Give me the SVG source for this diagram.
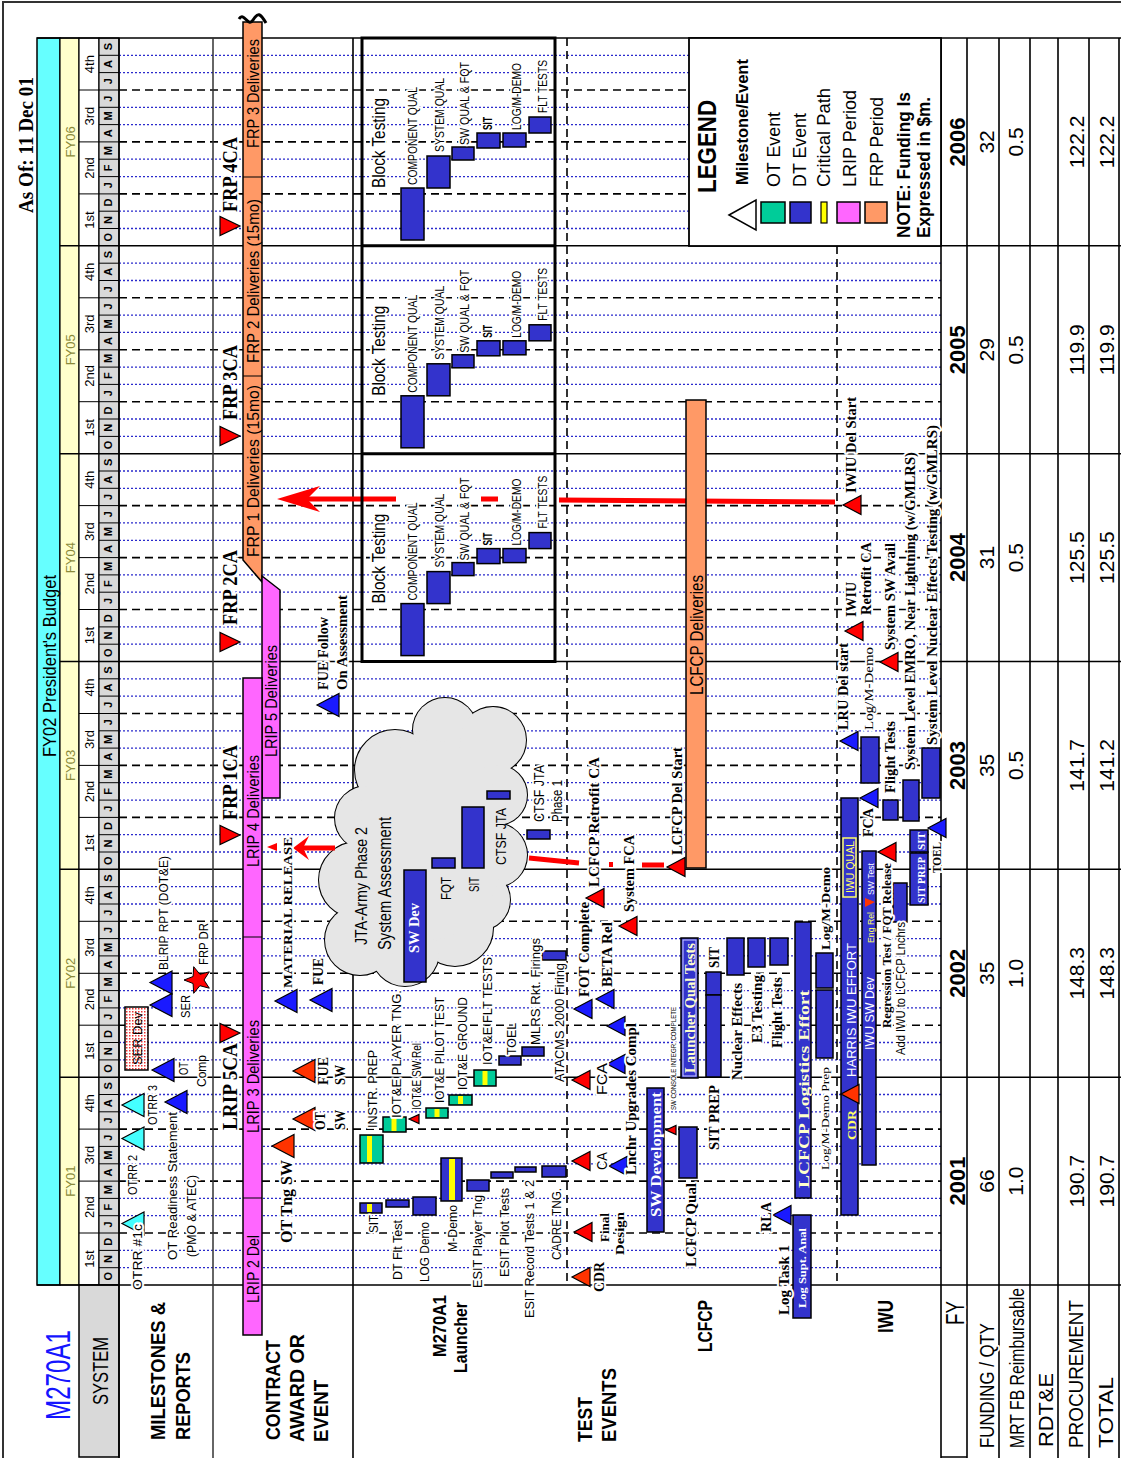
<svg xmlns="http://www.w3.org/2000/svg" width="1121" height="1458" viewBox="0 0 1121 1458">
<defs>
<style>
text{font-family:"Liberation Sans Narrow","Arial Narrow","Liberation Sans",Arial,sans-serif;fill:#000}
#labels text,#blk text{paint-order:stroke;stroke:#fff;stroke-width:4px;stroke-linejoin:round}
#labels text.nh{stroke:none}
.a{font-family:"Liberation Sans",Arial,sans-serif;font-weight:bold}
.s{font-family:"Liberation Serif","Times New Roman",serif;font-weight:bold}
.r{font-family:"Liberation Serif","Times New Roman",serif;font-weight:normal}
.b{font-weight:bold}
#labels text.w{fill:#fff;stroke:none}
#labels text.yl{fill:#ffff66;stroke:none}
#labels text.lt{fill:#ffffcc;stroke:none}
.bar{fill:#3333cc;stroke:#000;stroke-width:1.5}
.grn{fill:#00cc99;stroke:#000;stroke-width:1.5}
.ys{fill:#ffff00}
.tb{fill:#1a1aff;stroke:#000;stroke-width:1.2}
.tr{fill:#ff0000;stroke:#000;stroke-width:1.2}
.to{fill:#ff3300;stroke:#000;stroke-width:1.2}
.tc{fill:#44ffff;stroke:#000;stroke-width:1.2}
.dot{stroke:#2a2acc;stroke-width:1.3;stroke-dasharray:2 2;fill:none}
.dash{stroke:#000;stroke-width:1.6;stroke-dasharray:8 5;fill:none}
.sol{stroke:#000;stroke-width:1.6;fill:none}
.cp{stroke:#ff0000;stroke-width:5;fill:none}
</style>
<path id="tL" d="M0,0L22,-11.5L22,11.5Z"/>
<path id="tM" d="M0,0L18,-9.5L18,9.5Z"/>
<path id="tR" d="M0,0L-20,-9.5L-20,9.5Z"/>
<path id="tS" d="M0,0L10,-4.5L10,4.5Z"/>
<pattern id="dots" width="3" height="3" patternUnits="userSpaceOnUse"><rect width="3" height="3" fill="#fff"/><rect width="1.5" height="1.5" fill="#e33"/></pattern>
</defs>
<rect width="1121" height="1458" fill="#fff"/>
<path d="M3,1458V2H1121" fill="none" stroke="#333" stroke-width="2"/>

<g id="header">
<rect x="37" y="38" width="23" height="1247" fill="#66ffff" stroke="#000" stroke-width="1.5"/>
<rect x="60" y="38" width="19" height="1247" fill="#ffffcc" stroke="#000" stroke-width="1.2"/>
<rect x="79" y="38" width="20" height="1247" fill="#fff" stroke="#000" stroke-width="1.2"/>
<rect x="99" y="38" width="20" height="1247" fill="#d9d9d9" stroke="#000" stroke-width="1.2"/>
<path fill="none" stroke="#000" stroke-width="1" d="M99,1267.7h20M99,1250.4h20M99,1215.7h20M99,1198.4h20M99,1163.8h20M99,1146.4h20M99,1111.8h20M99,1094.5h20M99,1059.9h20M99,1042.5h20M99,1007.9h20M99,990.6h20M99,955.9h20M99,938.6h20M99,904h20M99,886.7h20M99,852h20M99,834.7h20M99,800.1h20M99,782.7h20M99,748.1h20M99,730.8h20M99,696.1h20M99,678.8h20M99,644.2h20M99,626.9h20M99,592.2h20M99,574.9h20M99,540.3h20M99,522.9h20M99,488.3h20M99,471h20M99,436.4h20M99,419h20M99,384.4h20M99,367.1h20M99,332.4h20M99,315.1h20M99,280.5h20M99,263.2h20M99,228.5h20M99,211.2h20M99,176.6h20M99,159.2h20M99,124.6h20M99,107.3h20M99,72.6h20M99,55.3h20M79,1233h40M79,1181.1h40M79,1129.1h40M79,1025.2h40M79,973.3h40M79,921.3h40M79,817.4h40M79,765.4h40M79,713.5h40M79,609.5h40M79,557.6h40M79,505.6h40M79,401.7h40M79,349.8h40M79,297.8h40M79,193.9h40M79,141.9h40M79,90h40"/>
<rect x="79" y="1285" width="40" height="172" fill="#d9d9d9" stroke="#000" stroke-width="1.5"/>
</g>

<g id="grid">
<path class="dot" d="M119,1267.7H941M119,1250.4H941M119,1215.7H941M119,1198.4H941M119,1163.8H941M119,1146.4H941M119,1111.8H941M119,1094.5H941M119,1059.9H941M119,1042.5H941M119,1007.9H941M119,990.6H941M119,955.9H941M119,938.6H941M119,904H941M119,886.7H941M119,852H941M119,834.7H941M119,800.1H941M119,782.7H941M119,748.1H941M119,730.8H941M119,696.1H941M119,678.8H941M119,644.2H941M119,626.9H941M119,592.2H941M119,574.9H941M119,540.3H941M119,522.9H941M119,488.3H941M119,471H941M119,436.4H941M119,419H941M119,384.4H941M119,367.1H941M119,332.4H941M119,315.1H941M119,280.5H941M119,263.2H941M119,228.5H941M119,211.2H941M119,176.6H941M119,159.2H941M119,124.6H941M119,107.3H941M119,72.6H941M119,55.3H941"/>
<path class="dash" d="M119,1233H941M119,1181.1H941M119,1129.1H941M119,1025.2H941M119,973.3H941M119,921.3H941M119,817.4H941M119,765.4H941M119,713.5H941M119,609.5H941M119,557.6H941M119,505.6H941M119,401.7H941M119,349.8H941M119,297.8H941M119,193.9H941M119,141.9H941M119,90H941"/>
<path class="sol" d="M60,1077.2H1121M60,869.3H1121M60,661.5H1121M60,453.7H1121M60,245.8H1121"/>
<path class="sol" stroke-width="2.5" d="M37,38H1121M941,38V1458"/>
<path class="sol" d="M37,1285H1121M119,38V1458M353,38V1458M967,38V1458M999,38V1458M1030,38V1458M1058,38V1458M1089,38V1458M1119,38V1458M941,1457H967"/>
<path d="M213,38V1458" stroke="#333" stroke-width="1.5"/>
<path class="dash" d="M567,38V1285M837,246V1285"/>
</g>

<g id="legend">
<rect x="689" y="38" width="252" height="208" fill="#fff" stroke="#000" stroke-width="1.8"/>
<path d="M729,215L756,200L756,230Z" fill="#fff" stroke="#000" stroke-width="1.5"/>
<rect x="761" y="202" width="24" height="21" fill="#00cc99" stroke="#000" stroke-width="1.5"/>
<rect x="790" y="202" width="21" height="21" fill="#3333cc" stroke="#000" stroke-width="1.5"/>
<rect x="821" y="202" width="6" height="21" fill="#ffff00" stroke="#000" stroke-width="1.2"/>
<rect x="837" y="202" width="23" height="21" fill="#ff66ff" stroke="#000" stroke-width="1.5"/>
<rect x="865" y="202" width="22" height="21" fill="#ff9966" stroke="#000" stroke-width="1.5"/>
</g>

<g id="cloud">
<g fill="#e6e6e6" stroke="#000" stroke-width="2">
<circle cx="395" cy="770" r="40"/><circle cx="445" cy="730" r="32"/><circle cx="493" cy="740" r="33"/><circle cx="497" cy="795" r="30"/><circle cx="495" cy="855" r="32"/><circle cx="480" cy="900" r="30"/><circle cx="455" cy="928" r="38"/><circle cx="405" cy="952" r="34"/><circle cx="360" cy="940" r="35"/><circle cx="357" cy="880" r="38"/><circle cx="367" cy="818" r="32"/>
</g>
<g fill="#e6e6e6">
<circle cx="395" cy="770" r="40"/><circle cx="445" cy="730" r="32"/><circle cx="493" cy="740" r="33"/><circle cx="497" cy="795" r="30"/><circle cx="495" cy="855" r="32"/><circle cx="480" cy="900" r="30"/><circle cx="455" cy="928" r="38"/><circle cx="405" cy="952" r="34"/><circle cx="360" cy="940" r="35"/><circle cx="357" cy="880" r="38"/><circle cx="367" cy="818" r="32"/>
<ellipse cx="430" cy="840" rx="75" ry="100"/>
</g>
</g>

<g id="contract">
<path d="M243,22H262V582L243,560Z" fill="#ff9966" stroke="#000" stroke-width="1.5"/>
<path d="M243,177H262M243,376H262" stroke="#000" stroke-width="1.2"/>
<path d="M262,576L280,590V798H262Z" fill="#ff66ff" stroke="#000" stroke-width="1.5"/>
<rect x="243" y="678" width="19" height="657" fill="#ff66ff" stroke="#000" stroke-width="1.5"/>
<path d="M243,937H262M243,1198H262" stroke="#000" stroke-width="1.2"/>
<path d="M239,19C244,11 248,28 253,20S260,13 266,23" fill="none" stroke="#000" stroke-width="3"/>
</g>

<g id="critical-path">
<path class="cp" d="M305,499H396M481,499H498M559,500L835,502M529,858L579,863M642,865H664"/>
<path class="cp" stroke-width="4" d="M300,848H335"/>
<path d="M277,499L320,486L307,499L320,512Z" fill="#f00"/>
<rect x="609" y="862" width="4" height="5" fill="#f00"/>
<path d="M293,848L309,836L303,848L309,860Z" fill="#f00"/>
<path d="M267,847L277,843L277,851Z" fill="#f00"/>
</g>

<g id="block">
<g id="blk">
<rect class="bar" x="401" y="188" width="23" height="52"/>
<rect class="bar" x="427" y="156" width="23" height="32"/>
<rect class="bar" x="452" y="147" width="22" height="13"/>
<rect class="bar" x="477" y="133" width="23" height="15"/>
<rect class="bar" x="503" y="133" width="23" height="14"/>
<rect class="bar" x="529" y="117" width="22" height="16"/>
<g transform="rotate(-90)">
<text x="-188" y="385" font-size="19" textLength="90" lengthAdjust="spacingAndGlyphs">Block Testing</text>
<text x="-185" y="417" font-size="12" textLength="98" lengthAdjust="spacingAndGlyphs">COMPONENT QUAL</text>
<text x="-152" y="444" font-size="12" textLength="74" lengthAdjust="spacingAndGlyphs">SYSTEM QUAL</text>
<text x="-145" y="469" font-size="12" textLength="83" lengthAdjust="spacingAndGlyphs">SW QUAL &amp; FQT</text>
<text x="-130" y="492" font-size="12" font-weight="bold" textLength="13" lengthAdjust="spacingAndGlyphs">SIT</text>
<text x="-130" y="521" font-size="12" textLength="67" lengthAdjust="spacingAndGlyphs">LOG/M-DEMO</text>
<text x="-113" y="547" font-size="12" textLength="53" lengthAdjust="spacingAndGlyphs">FLT TESTS</text>
</g>
</g>
<use href="#blk" y="207.8"/>
<use href="#blk" y="415.6"/>
<path d="M362,38H555V661.5H362ZM362,245.8H555M362,453.7H555" fill="none" stroke="#000" stroke-width="3"/>
</g>

<g id="bars">
<rect x="125" y="1007" width="23" height="63" fill="url(#dots)" stroke="#000" stroke-width="1.5"/>
<rect class="bar" x="360" y="1203" width="22" height="10"/><rect class="ys" x="367" y="1204" width="5" height="8"/>
<rect class="bar" x="386" y="1200" width="23" height="7"/>
<rect class="bar" x="413" y="1197" width="23" height="18"/>
<rect class="bar" x="441" y="1158" width="21" height="43"/><rect class="ys" x="449" y="1159" width="6" height="41"/>
<rect class="bar" x="467" y="1180" width="22" height="11"/>
<rect class="bar" x="491" y="1172" width="22" height="6"/>
<rect class="bar" x="515" y="1167" width="21" height="5"/>
<rect class="bar" x="542" y="1166" width="24" height="11"/>
<rect class="bar" x="499" y="1056" width="22" height="9"/>
<rect class="bar" x="522" y="1047" width="22" height="9"/>
<rect class="bar" x="542" y="951" width="24" height="9"/>
<rect class="bar" x="404" y="870" width="22" height="112"/>
<rect class="bar" x="432" y="858" width="23" height="10"/>
<rect class="bar" x="462" y="807" width="22" height="61"/>
<rect class="bar" x="487" y="791" width="23" height="8"/>
<rect class="bar" x="527" y="830" width="23" height="9"/>
<rect class="grn" x="360" y="1135" width="23" height="28"/><rect class="ys" x="367" y="1136" width="5" height="26"/>
<rect class="grn" x="383" y="1117" width="23" height="15"/><rect class="ys" x="391.5" y="1118" width="5" height="13"/>
<rect class="grn" x="426" y="1108" width="22" height="10"/><rect class="ys" x="434.5" y="1109" width="5" height="8"/>
<rect class="grn" x="449" y="1095" width="23" height="10"/><rect class="ys" x="458" y="1096" width="5" height="8"/>
<rect class="grn" x="474" y="1070" width="22" height="16"/><rect class="ys" x="482.5" y="1071" width="5" height="14"/>
<rect x="686" y="400" width="20" height="468" fill="#ff9966" stroke="#000" stroke-width="1.5"/>
<rect class="bar" x="647" y="1088" width="17" height="144"/>
<rect class="bar" x="679" y="1127" width="18" height="51"/>
<rect class="bar" x="681" y="938" width="17" height="140"/><rect x="683" y="940" width="13" height="136" fill="none" stroke="#ccccff" stroke-width="1"/>
<rect class="bar" x="706" y="972" width="15" height="23"/>
<rect class="bar" x="706" y="995" width="15" height="82"/>
<rect class="bar" x="727" y="938" width="17" height="37"/>
<rect class="bar" x="748" y="938" width="17" height="29"/>
<rect class="bar" x="770" y="938" width="18" height="27"/>
<rect class="bar" x="795" y="922" width="16" height="276"/>
<rect class="bar" x="816" y="953" width="17" height="35"/>
<rect class="bar" x="816" y="990" width="17" height="68"/>
<rect class="bar" x="793" y="1215" width="18" height="103"/>
<rect class="bar" x="841" y="798" width="17" height="417"/>
<rect x="843" y="838" width="13" height="59" fill="none" stroke="#ffff66" stroke-width="1.5"/>
<rect class="bar" x="862" y="851" width="14" height="314"/>
<rect class="bar" x="893" y="883" width="14" height="39"/>
<rect class="bar" x="910" y="853" width="18" height="52"/>
<rect class="bar" x="910" y="830" width="18" height="22"/>
<rect class="bar" x="861" y="737" width="18" height="46"/>
<rect class="bar" x="883" y="800" width="15" height="20"/>
<rect class="bar" x="903" y="780" width="16" height="41"/>
<rect class="bar" x="922" y="748" width="18" height="50"/>
</g>

<g id="markers">
<use href="#tL" x="122" y="1223.5" class="tc"/>
<use href="#tL" x="122" y="1138.5" class="tc"/>
<use href="#tL" x="122" y="1105" class="tc"/>
<use href="#tL" x="165" y="1102" class="tb"/>
<use href="#tL" x="152" y="1070" class="tb"/>
<use href="#tL" x="150" y="1005" class="tb"/>
<use href="#tL" x="150" y="982.5" class="tb"/>
<use href="#tL" x="275" y="1001" class="tb"/>
<use href="#tL" x="310" y="1000" class="tb"/>
<use href="#tL" x="317" y="705" class="tb"/>
<use href="#tM" x="574" y="1009" class="tb"/>
<use href="#tM" x="596" y="999" class="tb"/>
<use href="#tM" x="609" y="1166" class="tb"/>
<use href="#tM" x="607" y="1064" class="tb"/>
<use href="#tM" x="607" y="1026" class="tb"/>
<use href="#tM" x="773" y="1215" class="tb"/>
<use href="#tM" x="860" y="798" class="tb"/>
<use href="#tM" x="928" y="828" class="tb"/>
<use href="#tM" x="840" y="741" class="tb"/>
<use href="#tR" x="240" y="226" class="tr"/>
<use href="#tR" x="240" y="436" class="tr"/>
<use href="#tR" x="240" y="642" class="tr"/>
<use href="#tR" x="240" y="835" class="tr"/>
<use href="#tR" x="240" y="1033" class="tr"/>
<use href="#tL" x="272" y="1146" class="to"/>
<use href="#tL" x="293" y="1119" class="to"/>
<use href="#tL" x="293" y="1071" class="to"/>
<use href="#tM" x="572" y="1277" class="to"/>
<use href="#tM" x="841" y="1094" class="to"/>
<use href="#tM" x="574" y="1232" class="tr"/>
<use href="#tM" x="572" y="1161" class="tr"/>
<use href="#tM" x="572" y="1080" class="tr"/>
<use href="#tM" x="586" y="898" class="tr"/>
<use href="#tM" x="619" y="926" class="tr"/>
<use href="#tM" x="667" y="867" class="tr"/>
<use href="#tM" x="878" y="852" class="tr"/>
<use href="#tM" x="843" y="505" class="tr"/>
<use href="#tM" x="845" y="631" class="tr"/>
<use href="#tM" x="880" y="662" class="tr"/>
<use href="#tS" x="409" y="1119" class="tr"/>
<use href="#tS" x="666" y="1130" class="tr"/>
<path d="M875,902L865,898L865,907Z" fill="#ff3300"/>
<path transform="rotate(-90 198 980)" d="M198,966L201.5,975.1L211.3,975.7L203.7,981.9L206.2,991.3L198,986L189.8,991.3L192.3,981.9L184.7,975.7L194.5,975.1Z" fill="#f00" stroke="#000" stroke-width="1"/>
</g>

<g id="labels" transform="rotate(-90)">
<text class="s" font-size="21" x="-145" y="33" text-anchor="middle" textLength="136" lengthAdjust="spacingAndGlyphs">As Of: 11 Dec 01</text>
<text class="nh" font-size="19" x="-666" y="56" text-anchor="middle" textLength="182" lengthAdjust="spacingAndGlyphs">FY02 President's Budget</text>
<text class="nh" font-size="11" font-weight="bold" y="112" text-anchor="middle" x="-1276.3 -1259.0 -1241.7 -1224.4 -1207.1 -1189.7 -1172.4 -1155.1 -1137.8 -1120.5 -1103.2 -1085.8 -1068.5 -1051.2 -1033.9 -1016.6 -999.2 -981.9 -964.6 -947.3 -930.0 -912.6 -895.3 -878.0 -860.7 -843.4 -826.0 -808.7 -791.4 -774.1 -756.8 -739.4 -722.1 -704.8 -687.5 -670.2 -652.8 -635.5 -618.2 -600.9 -583.6 -566.3 -548.9 -531.6 -514.3 -497.0 -479.7 -462.3 -445.0 -427.7 -410.4 -393.1 -375.7 -358.4 -341.1 -323.8 -306.5 -289.1 -271.8 -254.5 -237.2 -219.9 -202.5 -185.2 -167.9 -150.6 -133.3 -115.9 -98.6 -81.3 -64.0 -46.7">ONDJFMAMJJASONDJFMAMJJASONDJFMAMJJASONDJFMAMJJASONDJFMAMJJASONDJFMAMJJAS</text>
<text class="nh" font-size="13" y="94" text-anchor="middle"><tspan x="-1259">1st</tspan><tspan x="-1207.1">2nd</tspan><tspan x="-1155.1">3rd</tspan><tspan x="-1103.2">4th</tspan><tspan x="-1051.2">1st</tspan><tspan x="-999.3">2nd</tspan><tspan x="-947.3">3rd</tspan><tspan x="-895.4">4th</tspan><tspan x="-843.4">1st</tspan><tspan x="-791.5">2nd</tspan><tspan x="-739.5">3rd</tspan><tspan x="-687.5">4th</tspan><tspan x="-635.6">1st</tspan><tspan x="-583.6">2nd</tspan><tspan x="-531.7">3rd</tspan><tspan x="-479.7">4th</tspan><tspan x="-427.8">1st</tspan><tspan x="-375.8">2nd</tspan><tspan x="-323.9">3rd</tspan><tspan x="-271.9">4th</tspan><tspan x="-220">1st</tspan><tspan x="-168">2nd</tspan><tspan x="-116.1">3rd</tspan><tspan x="-64.1">4th</tspan></text>
<text class="nh" font-size="13" y="75" text-anchor="middle" style="fill:#8a8a3a"><tspan x="-1181.1">FY01</tspan><tspan x="-973.3">FY02</tspan><tspan x="-765.4">FY03</tspan><tspan x="-557.6">FY04</tspan><tspan x="-349.8">FY05</tspan><tspan x="-141.9">FY06</tspan></text>

<text class="nh" font-size="35" x="-1420" y="70" textLength="90" lengthAdjust="spacingAndGlyphs" style="fill:#1515ff">M270A1</text>
<text class="nh" font-size="22" x="-1371" y="108" text-anchor="middle" textLength="68" lengthAdjust="spacingAndGlyphs">SYSTEM</text>
<text class="a" font-size="20" x="-1440" y="165" textLength="138" lengthAdjust="spacingAndGlyphs">MILESTONES &amp;</text>
<text class="a" font-size="20" x="-1440" y="190" textLength="88" lengthAdjust="spacingAndGlyphs">REPORTS</text>
<text class="a" font-size="20" x="-1440" y="280" textLength="100" lengthAdjust="spacingAndGlyphs">CONTRACT</text>
<text class="a" font-size="20" x="-1442" y="304" textLength="108" lengthAdjust="spacingAndGlyphs">AWARD OR</text>
<text class="a" font-size="20" x="-1442" y="328" textLength="62" lengthAdjust="spacingAndGlyphs">EVENT</text>
<text class="a" font-size="19" x="-1357" y="446" textLength="62" lengthAdjust="spacingAndGlyphs">M270A1</text>
<text class="a" font-size="19" x="-1373" y="467" textLength="71" lengthAdjust="spacingAndGlyphs">Launcher</text>
<text class="a" font-size="20" x="-1442" y="592" textLength="45" lengthAdjust="spacingAndGlyphs">TEST</text>
<text class="a" font-size="20" x="-1442" y="616" textLength="74" lengthAdjust="spacingAndGlyphs">EVENTS</text>
<text class="a" font-size="20" x="-1352" y="712" textLength="52" lengthAdjust="spacingAndGlyphs">LCFCP</text>
<text class="a" font-size="22" x="-1333" y="893" textLength="33" lengthAdjust="spacingAndGlyphs">IWU</text>

<text font-size="26" x="-1325" y="964" textLength="24" lengthAdjust="spacingAndGlyphs">FY</text>
<text font-size="21" x="-1448" y="994" textLength="125" lengthAdjust="spacingAndGlyphs">FUNDING / QTY</text>
<text font-size="21" x="-1448" y="1024" textLength="160" lengthAdjust="spacingAndGlyphs">MRT FB Reimbursable</text>
<text font-size="21" x="-1447" y="1053" textLength="74" lengthAdjust="spacingAndGlyphs">RDT&amp;E</text>
<text font-size="21" x="-1448" y="1083" textLength="148" lengthAdjust="spacingAndGlyphs">PROCUREMENT</text>
<text font-size="21" x="-1448" y="1113" textLength="71" lengthAdjust="spacingAndGlyphs">TOTAL</text>
<text class="nh" font-size="22" y="965" text-anchor="middle" font-weight="bold"><tspan x="-1181.1">2001</tspan><tspan x="-973.3">2002</tspan><tspan x="-765.4">2003</tspan><tspan x="-557.6">2004</tspan><tspan x="-349.8">2005</tspan><tspan x="-141.9">2006</tspan></text>
<text class="nh" font-size="21" y="994" text-anchor="middle"><tspan x="-1181.1">66</tspan><tspan x="-973.3">35</tspan><tspan x="-765.4">35</tspan><tspan x="-557.6">31</tspan><tspan x="-349.8">29</tspan><tspan x="-141.9">32</tspan></text>
<text class="nh" font-size="21" y="1023" text-anchor="middle"><tspan x="-1181.1">1.0</tspan><tspan x="-973.3">1.0</tspan><tspan x="-765.4">0.5</tspan><tspan x="-557.6">0.5</tspan><tspan x="-349.8">0.5</tspan><tspan x="-141.9">0.5</tspan></text>
<text class="nh" font-size="21" y="1084" text-anchor="middle"><tspan x="-1181.1">190.7</tspan><tspan x="-973.3">148.3</tspan><tspan x="-765.4">141.7</tspan><tspan x="-557.6">125.5</tspan><tspan x="-349.8">119.9</tspan><tspan x="-141.9">122.2</tspan></text>
<text class="nh" font-size="21" y="1114" text-anchor="middle"><tspan x="-1181.1">190.7</tspan><tspan x="-973.3">148.3</tspan><tspan x="-765.4">141.2</tspan><tspan x="-557.6">125.5</tspan><tspan x="-349.8">119.9</tspan><tspan x="-141.9">122.2</tspan></text>

<text class="a" font-size="26" x="-193" y="716" textLength="93" lengthAdjust="spacingAndGlyphs">LEGEND</text>
<text class="a" font-size="17" x="-185" y="748" textLength="126" lengthAdjust="spacingAndGlyphs">Milestone/Event</text>
<text font-size="19" x="-187" y="780" textLength="75" lengthAdjust="spacingAndGlyphs">OT Event</text>
<text font-size="19" x="-187" y="806" textLength="74" lengthAdjust="spacingAndGlyphs">DT Event</text>
<text font-size="19" x="-187" y="830" textLength="99" lengthAdjust="spacingAndGlyphs">Critical Path</text>
<text font-size="19" x="-187" y="856" textLength="97" lengthAdjust="spacingAndGlyphs">LRIP Period</text>
<text font-size="19" x="-187" y="883" textLength="90" lengthAdjust="spacingAndGlyphs">FRP Period</text>
<text font-size="19" class="b" x="-238" y="910" textLength="146" lengthAdjust="spacingAndGlyphs">NOTE:  Funding Is</text>
<text font-size="19" class="b" x="-238" y="930" textLength="141" lengthAdjust="spacingAndGlyphs">Expressed in $m.</text>

<text font-size="13" x="-1290" y="142" textLength="66" lengthAdjust="spacingAndGlyphs">OTRR #1c</text>
<text font-size="13" x="-1195" y="137" textLength="40" lengthAdjust="spacingAndGlyphs">OTRR 2</text>
<text font-size="13" x="-1125" y="157" textLength="40" lengthAdjust="spacingAndGlyphs">OTRR 3</text>
<text font-size="13" x="-1260" y="177" textLength="148" lengthAdjust="spacingAndGlyphs">OT Readiness Statement</text>
<text font-size="13" x="-1257" y="196" textLength="82" lengthAdjust="spacingAndGlyphs">(PMO &amp; ATEC)</text>
<text font-size="13" x="-1075" y="188" textLength="13" lengthAdjust="spacingAndGlyphs">OT</text>
<text font-size="13" x="-1087" y="206" textLength="32" lengthAdjust="spacingAndGlyphs">Comp</text>
<text class="nh" font-size="13" x="-1065" y="142" textLength="53" lengthAdjust="spacingAndGlyphs">SER Dev</text>
<text font-size="13" x="-970" y="168" textLength="114" lengthAdjust="spacingAndGlyphs">BLRIP RPT (DOT&amp;E)</text>
<text font-size="13" x="-1018" y="190" textLength="23" lengthAdjust="spacingAndGlyphs">SER</text>
<text font-size="13" x="-965" y="208" textLength="42" lengthAdjust="spacingAndGlyphs">FRP DR</text>

<text class="s" font-size="20" x="-212" y="237" textLength="75" lengthAdjust="spacingAndGlyphs">FRP 4CA</text>
<text class="s" font-size="20" x="-420" y="237" textLength="75" lengthAdjust="spacingAndGlyphs">FRP 3CA</text>
<text class="s" font-size="20" x="-625" y="237" textLength="75" lengthAdjust="spacingAndGlyphs">FRP 2CA</text>
<text class="s" font-size="20" x="-820" y="237" textLength="75" lengthAdjust="spacingAndGlyphs">FRP 1CA</text>
<text class="s" font-size="20" x="-1130" y="237" textLength="87" lengthAdjust="spacingAndGlyphs">LRIP 5CA</text>
<text class="nh" font-size="17" x="-148" y="259" textLength="109" lengthAdjust="spacingAndGlyphs">FRP 3 Deliveries</text>
<text class="nh" font-size="17" x="-363" y="259" textLength="164" lengthAdjust="spacingAndGlyphs">FRP 2 Deliveries (15mo)</text>
<text class="nh" font-size="17" x="-557" y="259" textLength="172" lengthAdjust="spacingAndGlyphs">FRP 1 Deliveries (15mo)</text>
<text class="nh" font-size="17" x="-757" y="277" textLength="112" lengthAdjust="spacingAndGlyphs">LRIP 5 Deliveries</text>
<text class="nh" font-size="17" x="-867" y="259" textLength="112" lengthAdjust="spacingAndGlyphs">LRIP 4 Deliveries</text>
<text class="nh" font-size="17" x="-1133" y="259" textLength="113" lengthAdjust="spacingAndGlyphs">LRIP 3 Deliveries</text>
<text class="nh" font-size="17" x="-1303" y="259" textLength="68" lengthAdjust="spacingAndGlyphs">LRIP 2 Del</text>
<text class="s" font-size="17" x="-1243" y="292" textLength="83" lengthAdjust="spacingAndGlyphs">OT Tng SW</text>
<text class="s" font-size="14" x="-1130" y="325" textLength="18" lengthAdjust="spacingAndGlyphs">OT</text>
<text class="s" font-size="14" x="-1130" y="345" textLength="20" lengthAdjust="spacingAndGlyphs">SW</text>
<text class="s" font-size="14" x="-1085" y="328" textLength="28" lengthAdjust="spacingAndGlyphs">FUE</text>
<text class="s" font-size="14" x="-1085" y="345" textLength="20" lengthAdjust="spacingAndGlyphs">SW</text>
<text class="s" font-size="14" x="-985" y="323" textLength="27" lengthAdjust="spacingAndGlyphs">FUE</text>
<text class="s" font-size="13" x="-988" y="292" textLength="151" lengthAdjust="spacingAndGlyphs">MATERIAL RELEASE</text>
<text class="s" font-size="14" x="-690" y="328" textLength="73" lengthAdjust="spacingAndGlyphs">FUE Follow</text>
<text class="s" font-size="14" x="-690" y="347" textLength="95" lengthAdjust="spacingAndGlyphs">On Assessment</text>

<text font-size="13" x="-1233" y="378" textLength="18" lengthAdjust="spacingAndGlyphs">SIT</text>
<text font-size="13" x="-1280" y="402" textLength="60" lengthAdjust="spacingAndGlyphs">DT Flt Test</text>
<text font-size="13" x="-1282" y="429" textLength="60" lengthAdjust="spacingAndGlyphs">LOG Demo</text>
<text font-size="13" x="-1252" y="457" textLength="47" lengthAdjust="spacingAndGlyphs">M-Demo</text>
<text font-size="13" x="-1288" y="482" textLength="93" lengthAdjust="spacingAndGlyphs">ESIT Player Tng</text>
<text font-size="13" x="-1277" y="509" textLength="89" lengthAdjust="spacingAndGlyphs">ESIT Pilot Tests</text>
<text font-size="13" x="-1318" y="534" textLength="138" lengthAdjust="spacingAndGlyphs">ESIT Record Tests 1 &amp; 2</text>
<text font-size="13" x="-1260" y="561" textLength="72" lengthAdjust="spacingAndGlyphs">CADRE TNG.</text>
<text font-size="13" x="-1128" y="377" textLength="78" lengthAdjust="spacingAndGlyphs">INSTR.  PREP</text>
<text font-size="13" x="-1118" y="401" textLength="128" lengthAdjust="spacingAndGlyphs">IOT&amp;E PLAYER TNG.</text>
<text font-size="13" x="-1110" y="421" textLength="67" lengthAdjust="spacingAndGlyphs">IOT&amp;E SW Rel</text>
<text font-size="13" x="-1103" y="444" textLength="106" lengthAdjust="spacingAndGlyphs">IOT&amp;E PILOT TEST</text>
<text font-size="13" x="-1090" y="467" textLength="93" lengthAdjust="spacingAndGlyphs">IOT&amp;E GROUND</text>
<text font-size="13" x="-1065" y="492" textLength="108" lengthAdjust="spacingAndGlyphs">IOT&amp;E  FLT TESTS</text>
<text font-size="13" x="-1055" y="516" textLength="32" lengthAdjust="spacingAndGlyphs">TOEL</text>
<text font-size="13" x="-1045" y="540" textLength="107" lengthAdjust="spacingAndGlyphs">MLRS Rkt. Firings</text>
<text font-size="13" x="-1082" y="564" textLength="119" lengthAdjust="spacingAndGlyphs">ATACMS 2000 Firing</text>
<text class="nh" font-size="17" x="-945" y="367" textLength="118" lengthAdjust="spacingAndGlyphs">JTA-Army Phase 2</text>
<text class="nh" font-size="18" x="-950" y="391" textLength="133" lengthAdjust="spacingAndGlyphs">System Assessment</text>
<text class="s w" font-size="14" x="-953" y="419" textLength="50" lengthAdjust="spacingAndGlyphs">SW Dev</text>
<text class="nh" font-size="14" x="-900" y="451" textLength="23" lengthAdjust="spacingAndGlyphs">FQT</text>
<text class="nh" font-size="14" x="-892" y="479" textLength="15" lengthAdjust="spacingAndGlyphs">SIT</text>
<text class="nh" font-size="14" x="-865" y="506" textLength="57" lengthAdjust="spacingAndGlyphs">CTSF JTA</text>
<text font-size="14" x="-822" y="544" textLength="57" lengthAdjust="spacingAndGlyphs">CTSF JTA</text>
<text font-size="14" x="-822" y="562" textLength="42" lengthAdjust="spacingAndGlyphs">Phase 1</text>

<text class="s" font-size="14" x="-1292" y="604" textLength="30" lengthAdjust="spacingAndGlyphs">CDR</text>
<text class="s" font-size="13" x="-1242" y="609" textLength="29" lengthAdjust="spacingAndGlyphs">Final</text>
<text class="s" font-size="13" x="-1255" y="624" textLength="43" lengthAdjust="spacingAndGlyphs">Design</text>
<text font-size="15" x="-1170" y="607" textLength="18" lengthAdjust="spacingAndGlyphs">CA</text>
<text class="s" font-size="14" x="-1175" y="636" textLength="152" lengthAdjust="spacingAndGlyphs">Lnchr Upgrades  Compl</text>
<text font-size="15" x="-1095" y="607" textLength="32" lengthAdjust="spacingAndGlyphs">FCA</text>
<text class="s" font-size="15" x="-997" y="589" textLength="95" lengthAdjust="spacingAndGlyphs">FOT Complete</text>
<text class="s" font-size="15" x="-987" y="612" textLength="65" lengthAdjust="spacingAndGlyphs">BETA Rel</text>
<text class="s" font-size="15" x="-887" y="599" textLength="130" lengthAdjust="spacingAndGlyphs">LCFCP Retrofit CA</text>
<text class="s" font-size="15" x="-912" y="634" textLength="77" lengthAdjust="spacingAndGlyphs">System FCA</text>
<text class="s" font-size="15" x="-855" y="682" textLength="108" lengthAdjust="spacingAndGlyphs">LCFCP Del Start</text>
<text class="nh" font-size="18" x="-635" y="703" text-anchor="middle" textLength="120" lengthAdjust="spacingAndGlyphs">LCFCP Deliveries</text>
<text class="s w" font-size="14" x="-1217" y="661" textLength="125" lengthAdjust="spacingAndGlyphs">SW Development</text>
<text font-size="7" x="-1110" y="676" textLength="103" lengthAdjust="spacingAndGlyphs" style="stroke-width:2px">SW CONSOLE INTEGR. COMPLETE</text>
<text class="s" font-size="14" x="-1267" y="696" textLength="84" lengthAdjust="spacingAndGlyphs">LCFCP Qual</text>
<text class="s lt" font-size="14" x="-1073" y="695" textLength="130" lengthAdjust="spacingAndGlyphs">Launcher Qual Tests</text>
<text class="s" font-size="14" x="-1150" y="719" textLength="65" lengthAdjust="spacingAndGlyphs">SIT PREP</text>
<text class="s" font-size="14" x="-968" y="719" textLength="21" lengthAdjust="spacingAndGlyphs">SIT</text>
<text class="s" font-size="14" x="-1080" y="742" textLength="97" lengthAdjust="spacingAndGlyphs">Nuclear Effects</text>
<text class="s" font-size="14" x="-1043" y="762" textLength="68" lengthAdjust="spacingAndGlyphs">E3 Testing</text>
<text class="s" font-size="14" x="-1048" y="782" textLength="71" lengthAdjust="spacingAndGlyphs">Flight Tests</text>
<text class="s lt" font-size="14" x="-1188" y="809" textLength="198" lengthAdjust="spacingAndGlyphs">LCFCP Logistics  Effort</text>
<text class="r" font-size="11" x="-1170" y="829" textLength="103" lengthAdjust="spacingAndGlyphs">Log/M-Demo Prep</text>
<text class="s" font-size="13" x="-950" y="830" textLength="83" lengthAdjust="spacingAndGlyphs">Log/M-Demo</text>
<text class="s" font-size="14" x="-1232" y="771" textLength="30" lengthAdjust="spacingAndGlyphs">RLA</text>
<text class="s w" font-size="11" x="-1308" y="806" textLength="80" lengthAdjust="spacingAndGlyphs">Log Supt. Anal</text>
<text class="s" font-size="14" x="-1315" y="789" textLength="70" lengthAdjust="spacingAndGlyphs">Log Task 1</text>

<text class="w" font-size="13" x="-1077" y="856" textLength="134" lengthAdjust="spacingAndGlyphs">HARRIS  IWU  EFFORT</text>
<text class="yl" font-size="11" x="-893" y="854" textLength="52" lengthAdjust="spacingAndGlyphs">IWU QUAL</text>
<text class="s yl" font-size="13" x="-1140" y="856" textLength="30" lengthAdjust="spacingAndGlyphs">CDR</text>
<text class="w" font-size="12" x="-1050" y="874" textLength="73" lengthAdjust="spacingAndGlyphs">IWU SW Dev</text>
<text class="yl" font-size="9" x="-943" y="874" textLength="31" lengthAdjust="spacingAndGlyphs">Eng Rel</text>
<text class="w" font-size="9" x="-895" y="874" textLength="32" lengthAdjust="spacingAndGlyphs">SW Test</text>
<text class="s" font-size="14" x="-837" y="873" textLength="29" lengthAdjust="spacingAndGlyphs">FCA</text>
<text class="s" font-size="13" x="-1028" y="891" textLength="165" lengthAdjust="spacingAndGlyphs">Regression Test / FQT Release</text>
<text font-size="12" x="-1055" y="905" textLength="133" lengthAdjust="spacingAndGlyphs">Add IWU to LCFCP Lnchrs</text>
<text class="s w" font-size="10" x="-903" y="925" textLength="46" lengthAdjust="spacingAndGlyphs">SIT PREP</text>
<text class="s w" font-size="10" x="-850" y="925" textLength="18" lengthAdjust="spacingAndGlyphs">SIT</text>
<text class="s" font-size="13" x="-873" y="941" textLength="31" lengthAdjust="spacingAndGlyphs">TOEL</text>
<text class="s" font-size="14" x="-793" y="895" textLength="72" lengthAdjust="spacingAndGlyphs">Flight Tests</text>
<text class="s" font-size="14" x="-770" y="915" textLength="318" lengthAdjust="spacingAndGlyphs">System Level EMRO, Near Lightning (w/GMLRS)</text>
<text class="s" font-size="14" x="-745" y="937" textLength="320" lengthAdjust="spacingAndGlyphs">System Level Nuclear Effects Testing (w/GMLRS)</text>
<text class="s" font-size="14" x="-730" y="848" textLength="87" lengthAdjust="spacingAndGlyphs">LRU Del start</text>
<text class="r" font-size="13" x="-730" y="873" textLength="83" lengthAdjust="spacingAndGlyphs">Log/M-Demo</text>
<text class="s" font-size="14" x="-617" y="856" textLength="35" lengthAdjust="spacingAndGlyphs">IWIU</text>
<text class="s" font-size="14" x="-615" y="871" textLength="73" lengthAdjust="spacingAndGlyphs">Retrofit CA</text>
<text class="s" font-size="14" x="-650" y="895" textLength="107" lengthAdjust="spacingAndGlyphs">System SW Avail</text>
<text class="s" font-size="14" x="-493" y="856" textLength="96" lengthAdjust="spacingAndGlyphs">IWIU Del Start</text>
</g>
</svg>
